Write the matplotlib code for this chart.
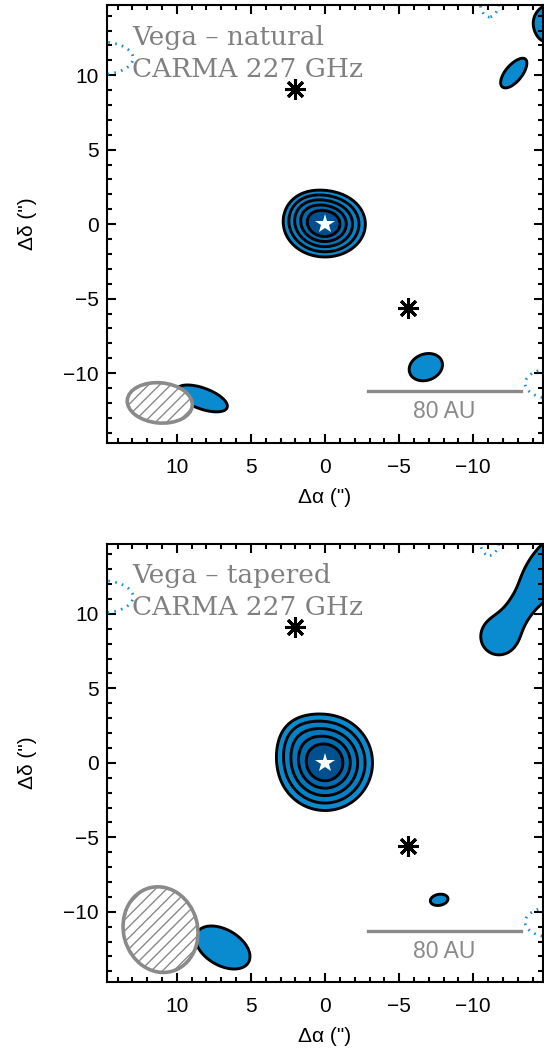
import numpy as np
import matplotlib.pyplot as plt
from matplotlib.patches import Ellipse
from matplotlib.ticker import MultipleLocator

plt.rcParams['font.family'] = ['Liberation Sans', 'DejaVu Sans']
plt.rcParams['hatch.linewidth'] = 1.0

# ------------------------------
# Map components
# offsets in arcsec, peak in units of the rms, sizes in arcsec, angle in deg
# kind: 'c' = cone (size = zero radius), 'g' = gaussian (size = sigma)
# ------------------------------
nat_kind = ['c', 'g', 'g', 'g', 'g', 'g', 'g', 'g', 'g']
nat_x0 = [0.0, 1.5, -6.8, 8.3, -12.7, -15.4, 15.2, -11.1, -15.3]
nat_y0 = [0.0, 1.2, -9.6, -11.7, 10.1, 13.5, 11.15, 15.0, -10.7]
nat_peak = [21.9, 2.5, 4.95, 4.95, 4.95, 4.95, -4.95, -4.95, -4.95]
nat_sig_a = [3.15, 1.1, 1.15, 1.8, 1.15, 1.35, 2.25, 0.65, 1.8]
nat_sig_b = [2.55, 1.1, 0.88, 0.7, 0.55, 1.3, 1.1, 1.1, 1.0]
nat_ang = [0, 0, -20, 20, -50, 0, 0, 0, 0]

tap_kind = ['c', 'g', 'g', 'g', 'g', 'g', 'g', 'g', 'g', 'g']
tap_x0 = [0.0, 2.3, -7.7, 6.9, -11.7, -13.0, -15.0, 15.2, -11.1, -15.3]
tap_y0 = [0.0, 2.3, -9.2, -12.4, 8.45, 10.2, 13.0, 11.15, 15.0, -10.7]
tap_peak = [22.2, 2.4, 4.95, 4.95, 4.6, 2.2, 5.4, -4.95, -4.95, -4.95]
tap_sig_a = [3.7, 1.3, 0.6, 2.0, 1.2, 1.0, 2.6, 2.25, 0.65, 1.8]
tap_sig_b = [3.7, 1.3, 0.37, 1.2, 1.2, 0.55, 1.25, 1.1, 1.1, 1.0]
tap_ang = [0, 0, -10, 30, 0, 124, 124, 0, 0, 0]

# contour levels (x rms)
pos_levels = [3, 6, 9, 12, 15]
neg_levels = [-3]
fill_colors = ['#0a8bd0', '#0482c6', '#0078bb', '#006bae', '#00508f']

# background sources (asterisks) and the star
bg_x = [2.0, -5.6]
bg_y = [9.1, -5.6]
star_x = [0.0]
star_y = [0.0]

# synthesized beams: center x, center y, width, height, angle
nat_beam = [11.15, -12.0, 4.4, 2.7, 5]
tap_beam = [11.1, -11.2, 5.0, 5.8, -15]

# scale bar: 80 AU at the distance of Vega
bar_x = [-2.9, -13.2]
bar_au = '80 AU'

titles = ['Vega \u2013 natural', 'Vega \u2013 tapered']
subtitle = 'CARMA 227 GHz'


def make_map(X, Y, kinds, x0s, y0s, peaks, sa, sb, angs):
    Z = np.zeros_like(X)
    for k, x0, y0, p, a, b, t in zip(kinds, x0s, y0s, peaks, sa, sb, angs):
        th = np.deg2rad(t)
        dx = X - x0
        dy = Y - y0
        u = dx * np.cos(th) + dy * np.sin(th)
        v = -dx * np.sin(th) + dy * np.cos(th)
        rho = np.sqrt((u / a) ** 2 + (v / b) ** 2)
        if k == 'c':
            Z += p * np.clip(1 - rho, 0, None)
        else:
            Z += p * np.exp(-0.5 * rho ** 2)
    return Z


def draw_panel(ax, Z, X, Y, beam, title, bar_y, label_y, text_y):
    ax.contourf(X, Y, Z, levels=pos_levels + [1000], colors=fill_colors, zorder=1)
    ax.contour(X, Y, Z, levels=pos_levels, colors='black', linewidths=2.1, zorder=2)
    ax.contour(X, Y, Z, levels=neg_levels, colors='#1a90d8', linewidths=2.0,
               linestyles=[(0, (0.6, 1.9))], zorder=2)

    bx, by, bw, bh, ba = beam
    ax.add_patch(Ellipse((bx, by), bw, bh, angle=ba, facecolor='white',
                         edgecolor='#8a8a8a', hatch='///', linewidth=2.6, zorder=3))

    ax.plot(bg_x, bg_y, linestyle='none', marker=(8, 2, 0), markersize=15,
            markeredgewidth=2.2, color='black', zorder=4)
    ax.plot(star_x, star_y, linestyle='none', marker='*', markersize=15,
            color='white', markeredgewidth=0, zorder=4)

    ax.plot(bar_x, [bar_y, bar_y], color='#8a8a8a', linewidth=2.4, zorder=3)
    ax.text(np.mean(bar_x), label_y, bar_au, color='#8a8a8a', fontsize=16.5,
            ha='center', va='center', zorder=3)

    ax.text(13.0, text_y[0], title, color='#808080', fontsize=19,
            family='DejaVu Serif', ha='left', va='baseline', zorder=3)
    ax.text(13.0, text_y[1], subtitle, color='#808080', fontsize=19,
            family='DejaVu Serif', ha='left', va='baseline', zorder=3)

    ax.set_xlim(14.7, -14.7)
    ax.set_ylim(-14.7, 14.7)
    ax.xaxis.set_major_locator(MultipleLocator(5))
    ax.yaxis.set_major_locator(MultipleLocator(5))
    ax.xaxis.set_minor_locator(MultipleLocator(1))
    ax.yaxis.set_minor_locator(MultipleLocator(1))
    ax.tick_params(which='both', direction='in', top=True, right=True, width=1.5)
    ax.tick_params(which='major', length=6.5, labelsize=15)
    ax.tick_params(which='minor', length=3.6)
    ax.tick_params(axis='x', pad=11)
    ax.tick_params(axis='y', pad=6)
    for s in ax.spines.values():
        s.set_linewidth(1.5)
    ax.set_xlabel('\u0394\u03b1 (")', fontsize=15, labelpad=8)
    ax.set_ylabel('\u0394\u03b4 (")', fontsize=15, labelpad=19)


xs = np.linspace(-20, 20, 1001)
X, Y = np.meshgrid(xs, xs)
Z_nat = make_map(X, Y, nat_kind, nat_x0, nat_y0, nat_peak, nat_sig_a, nat_sig_b, nat_ang)
Z_tap = make_map(X, Y, tap_kind, tap_x0, tap_y0, tap_peak, tap_sig_a, tap_sig_b, tap_ang)

fig = plt.figure(figsize=(5.44, 10.5), dpi=100)
ax1 = fig.add_axes([0.197, 0.578, 0.801, 0.417])
ax2 = fig.add_axes([0.197, 0.065, 0.801, 0.417])

draw_panel(ax1, Z_nat, X, Y, nat_beam, titles[0], -11.2, -12.6, [12.0, 9.85])
draw_panel(ax2, Z_tap, X, Y, tap_beam, titles[1], -11.3, -12.7, [12.1, 9.95])

fig.savefig('out.png', dpi=100)
